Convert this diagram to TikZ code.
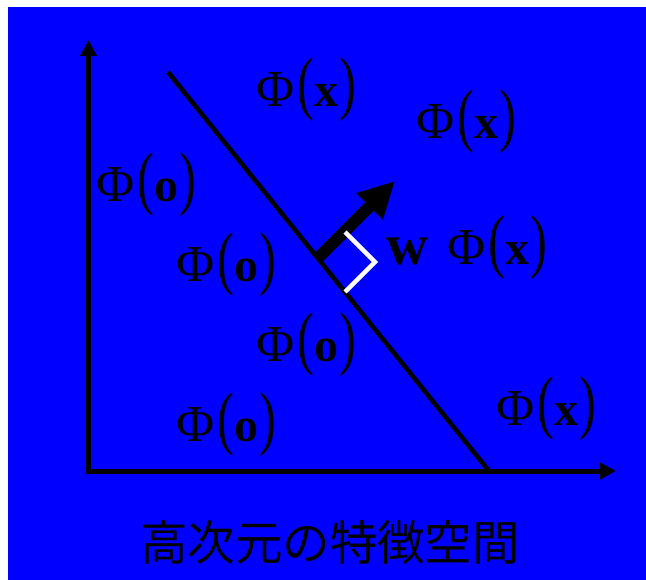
\documentclass[tikz,border=0pt]{standalone}
\usepackage{fontspec}
\usepackage{graphicx}
\setmainfont{Liberation Serif}
\newfontfamily\cjk{Noto Sans CJK JP}
\usetikzlibrary{arrows.meta}
\definecolor{bg}{HTML}{0000FF}
\newcommand{\bigpar}[1]{{\fontsize{44}{44}\selectfont\scalebox{1.15}[1.6]{#1}}}
\newcommand{\phiof}[1]{{\fontsize{52}{52}\selectfont Φ}\kern3pt\bigpar{(}\kern1pt{\fontsize{48}{48}\selectfont\bfseries #1}\kern1pt\bigpar{)}}
\tikzset{
  lbl/.style={anchor=base west, inner sep=0pt, outer sep=0pt, text=black},
  axis/.style={line width=5pt, black, {Triangle[length=16pt,width=16pt]}-{Triangle[length=16pt,width=16pt]}},
  sep/.style={line width=4.6pt, black},
  wvec/.style={line width=12pt, black, -{Triangle[length=36pt,width=35pt]}},
  rangle/.style={line width=4.5pt, white}
}
\begin{document}
\begin{tikzpicture}[x=1pt,y=-1pt]
\useasboundingbox (0,0) rectangle (646,580);
\fill[bg] (8,7) rectangle (646,580);
% axes
\coordinate (ytip) at (88.5,40);
\coordinate (O) at (88.5,471);
\coordinate (xtip) at (616,471);
\draw[axis] (ytip) -- (O) -- (xtip);
% separating line
\coordinate (s1) at (168,72);
\coordinate (s2) at (489,471);
\draw[sep] (s1) -- (s2);
% w vector
\coordinate (w1) at (318,258);
\coordinate (w2) at (395,181);
\draw[wvec] (w1) -- (w2);
% right angle marker
\coordinate (r1) at (345,232);
\coordinate (r2) at (375,262);
\coordinate (r3) at (345,292);
\draw[rangle] (r1) -- (r2) -- (r3);
% labels
\node[lbl] (x1) at (256,107) {\phiof{x}};
\node[lbl] (x2) at (416,139) {\phiof{x}};
\node[lbl] (x3) at (447,265) {\phiof{x}};
\node[lbl] (x4) at (496,425) {\phiof{x}};
\node[lbl] (o1) at (96,202) {\phiof{o}};
\node[lbl] (o2) at (176,282) {\phiof{o}};
\node[lbl] (o3) at (256,362) {\phiof{o}};
\node[lbl] (o4) at (176,442) {\phiof{o}};
\node[lbl] (w) at (386,265) {\fontsize{58}{58}\selectfont\bfseries w};
\node[inner sep=0pt] (cap) at (330,542) {\cjk\fontsize{47.5}{47.5}\selectfont 高次元の特徴空間};
\end{tikzpicture}
\end{document}
